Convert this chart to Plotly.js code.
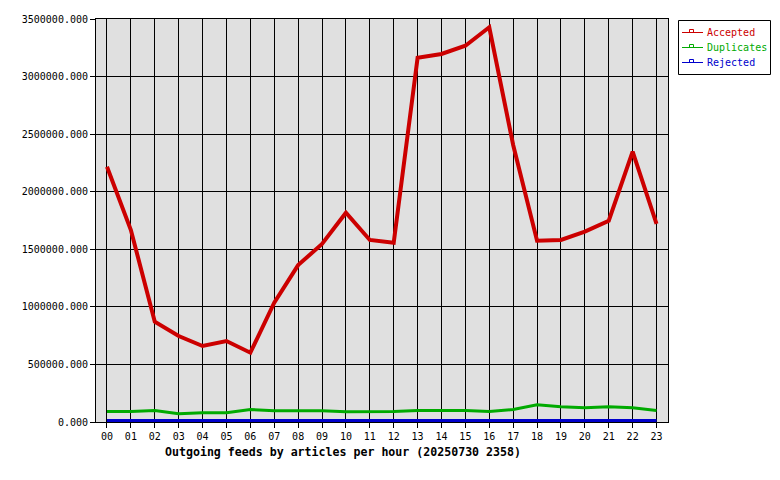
<!DOCTYPE html>
<html>
<head>
<meta charset="utf-8">
<script src="https://cdn.plot.ly/plotly-3.0.1.min.js"></script>
<style>html,body{margin:0;padding:0;background:#fff;}#chart{width:780px;height:480px;}</style>
</head>
<body>
<div id="chart"></div>
<script>
const hours = ["00","01","02","03","04","05","06","07","08","09","10","11","12","13","14","15","16","17","18","19","20","21","22","23"];
const accepted = [2217000,1667000,871000,747000,660000,703000,602000,1036000,1363000,1546000,1818000,1581000,1557000,3164000,3196000,3268000,3428000,2406000,1575000,1581000,1653000,1748000,2348000,1720000];
const duplicates = [91000,91000,100000,71000,80000,80000,109000,97000,97000,97000,89000,89000,91000,100000,100000,100000,91000,109000,150000,132000,124000,132000,124000,100000];
const rejected = [13000,13000,13000,13000,13000,13000,13000,13000,13000,13000,13000,13000,13000,13000,13000,13000,13000,13000,13000,13000,13000,13000,13000,13000];
const seriesNames = ["Accepted","Duplicates","Rejected"];
const seriesColors = ["#cc0000","#00aa00","#0000cc"];
const titleText = "Outgoing feeds by articles per hour (20250730 2358)";

const xIdx = hours.map((h,i)=>i);
const allSeries = [accepted, duplicates, rejected];
const widths = [4,3,3];
const traces = allSeries.map((vals,k)=>({type:'scatter', mode:'lines', x:xIdx, y:vals, name:seriesNames[k], showlegend:false,
    line:{color:seriesColors[k], width:widths[k]}, hoverinfo:'skip'}));

// manual legend (pixel geometry converted to paper coords)
const L = 96, T = 19, W = 572, H = 403;
const px = x => (x - L) / W;
const py = y => (T + H - y) / H;
const shapes = [{type:'rect', xref:'paper', yref:'paper', x0:px(678.5), x1:px(770.5), y0:py(20.5), y1:py(74.5),
  line:{color:'#000', width:1}, fillcolor:'#fff', layer:'above'}];
const annotations = [];
seriesNames.forEach((nm,k)=>{
  const yy = 32.5 + 15*k;
  shapes.push({type:'line', xref:'paper', yref:'paper', x0:px(682), x1:px(703), y0:py(yy), y1:py(yy), line:{color:seriesColors[k], width:1}, layer:'above'});
  shapes.push({type:'rect', xref:'paper', yref:'paper', x0:px(689.5), x1:px(693.5), y0:py(yy), y1:py(yy-3), line:{color:seriesColors[k], width:1}, fillcolor:'rgba(0,0,0,0)', layer:'above'});
  annotations.push({text:nm, xref:'paper', yref:'paper', x:px(705), y:py(yy), xanchor:'left', yanchor:'middle', showarrow:false,
    font:{family:'"DejaVu Sans Mono", monospace', size:10, color:seriesColors[k]}});
});

const mono = '"DejaVu Sans Mono", "Liberation Mono", monospace';
annotations.push({text:'<b>'+titleText+'</b>', xref:'paper', yref:'paper', x:px(343), y:py(452), xanchor:'center', yanchor:'middle',
    showarrow:false, font:{family:mono, size:11.6, color:'#000'}});

const layout = {
  width:780, height:480,
  margin:{l:96, r:112, t:19, b:58, pad:0, autoexpand:false},
  paper_bgcolor:'#ffffff', plot_bgcolor:'#e0e0e0',
  font:{family:mono, size:10, color:'#000'},
  showlegend:false,
  xaxis:{range:[-0.46,23.48], tickmode:'array', tickvals:xIdx, ticktext:hours, showgrid:true, gridcolor:'#000', gridwidth:1,
    ticks:'outside', ticklen:5, tickcolor:'#000', showline:true, linecolor:'#000', linewidth:1, mirror:true, zeroline:false,
    tickfont:{family:mono, size:10}},
  yaxis:{range:[0,3500000], dtick:500000, tick0:0, tickformat:'.3f', showgrid:true, gridcolor:'#000', gridwidth:1,
    ticks:'outside', ticklen:5, tickcolor:'#000', showline:true, linecolor:'#000', linewidth:1, mirror:true, zeroline:false,
    tickfont:{family:mono, size:10}},
  shapes: shapes,
  annotations: annotations
};
Plotly.newPlot('chart', traces, layout, {staticPlot:true, displayModeBar:false});
</script>
</body>
</html>
